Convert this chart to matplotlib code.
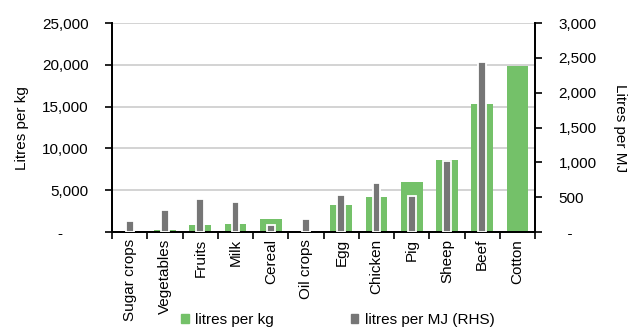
import numpy as np
import matplotlib
matplotlib.use("Agg")
import matplotlib.pyplot as plt
from matplotlib.ticker import FuncFormatter, FixedLocator
from matplotlib.patches import Patch

plt.rcParams['font.family'] = ['Liberation Sans', 'DejaVu Sans']
plt.rcParams['font.size'] = 11

# data
categories = ["Sugar crops", "Vegetables", "Fruits", "Milk", "Cereal", "Oil crops",
              "Egg", "Chicken", "Pig", "Sheep", "Beef", "Cotton"]
litres_per_kg = [np.nan, 300, 900, 950, 1550, np.nan,
                 3200, 4250, 5950, 8650, 15350, 19900]
litres_per_mj = [165, 310, 480, 435, 105, 185,
                 535, 710, 520, 1015, 2440, np.nan]

GREEN = "#74c169"
GREY = "#767676"

fig = plt.figure(figsize=(6.34, 3.31), dpi=100)
ax = fig.add_axes([0.177, 0.299, 0.667, 0.631])
ax2 = ax.twinx()

x = np.arange(len(categories))
ax.bar(x, litres_per_kg, width=0.62, color=GREEN, zorder=2)
ax2.bar(x, litres_per_mj, width=0.22, color=GREY, edgecolor="white", linewidth=1.3, zorder=3)


def left_fmt(v, p):
    return "-      " if v == 0 else f"{v:,.0f}"


def right_fmt(v, p):
    return "  -" if v == 0 else f"{v:,.0f}"


# left axis
ax.set_ylim(0, 25000)
ax.set_yticks(np.arange(0, 25001, 5000))
ax.yaxis.set_major_formatter(FuncFormatter(left_fmt))
ax.yaxis.grid(True, color="#c8c8c8", linewidth=1.1, zorder=0)
ax.set_axisbelow(True)
ax.set_ylabel("Litres per kg", labelpad=9)

# right axis
ax2.set_ylim(0, 3000)
ax2.set_yticks(np.arange(0, 3001, 500))
ax2.yaxis.set_major_formatter(FuncFormatter(right_fmt))
ax2.set_ylabel("Litres per MJ", rotation=-90, labelpad=22)

# category axis
ax.set_xlim(-0.5, len(categories) - 0.5)
ax.set_xticks(x)
ax.set_xticklabels(categories, rotation=90)
ax.xaxis.set_minor_locator(FixedLocator(np.arange(-0.5, len(categories), 1.0)))
ax.tick_params(axis="x", which="major", length=0, pad=5)
ax.tick_params(axis="x", which="minor", length=5, width=1.2, color="black")
ax.tick_params(axis="y", length=5, width=1.2, pad=12)
ax2.tick_params(axis="y", length=5, width=1.2, pad=12)

for a in (ax, ax2):
    a.spines["top"].set_visible(False)
    for s in ("left", "right", "bottom"):
        a.spines[s].set_linewidth(1.3)
        a.spines[s].set_color("black")

handles = [Patch(color=GREEN, label="litres per kg"),
           Patch(color=GREY, label="litres per MJ (RHS)")]
fig.legend(handles=handles, loc="center", bbox_to_anchor=(0.533, 0.033), ncol=2,
           frameon=False, handlelength=0.5, handleheight=0.5, handletextpad=0.45,
           columnspacing=5.0, fontsize=11)

fig.savefig("out.png", dpi=100)
